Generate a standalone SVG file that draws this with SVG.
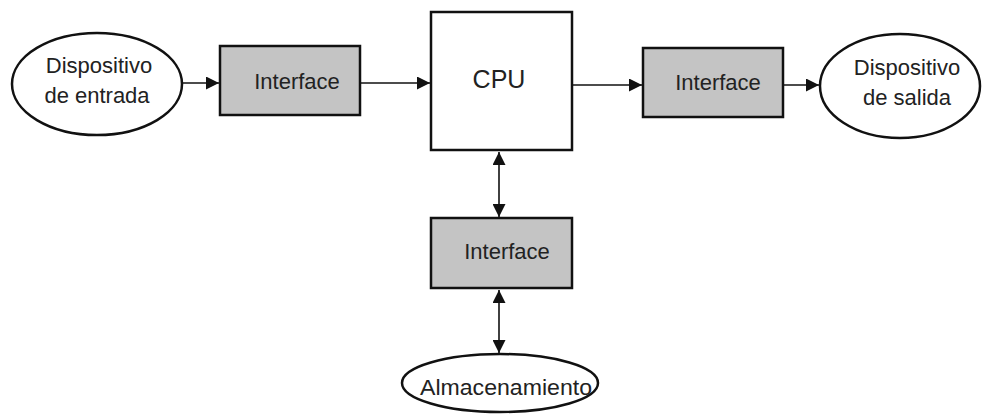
<svg xmlns="http://www.w3.org/2000/svg" width="982" height="414" viewBox="0 0 982 414">
<style>
.box{fill:#fff;stroke:#111;stroke-width:2.5}
.iface{fill:#c4c4c4;stroke:#111;stroke-width:2.5}
.ell{fill:#fff;stroke:#111;stroke-width:2.5}
.lbl{font-family:"Liberation Sans",Arial,sans-serif;font-size:22px;fill:#222;text-anchor:middle}
.cn{stroke:#111;stroke-width:1.6;fill:none}
</style>
<defs>
<marker id="ah" markerUnits="userSpaceOnUse" markerWidth="13" markerHeight="13" viewBox="0 0 10 10" refX="10" refY="5" orient="auto-start-reverse">
<path d="M0,0 L10,5 L0,10 z" fill="#111"/>
</marker>
</defs>
<rect width="982" height="414" fill="#fff"/>
<g id="connectors">
<line class="cn" x1="183" y1="83" x2="219" y2="83" marker-end="url(#ah)"/>
<line class="cn" x1="361" y1="83" x2="430" y2="83" marker-end="url(#ah)"/>
<line class="cn" x1="573" y1="85" x2="642" y2="85" marker-end="url(#ah)"/>
<line class="cn" x1="784" y1="85" x2="819" y2="85" marker-end="url(#ah)"/>
<line class="cn" x1="499" y1="152" x2="499" y2="217" marker-start="url(#ah)" marker-end="url(#ah)"/>
<line class="cn" x1="499" y1="290" x2="499" y2="353" marker-start="url(#ah)" marker-end="url(#ah)"/>
</g>
<g id="in-device">
<ellipse class="ell" cx="97" cy="84" rx="85" ry="51"/>
<text class="lbl" x="99" y="73">Dispositivo</text>
<text class="lbl" x="97" y="103">de entrada</text>
</g>
<g id="iface-in">
<rect class="iface" x="220" y="46" width="140" height="69"/>
<text class="lbl" x="297" y="89">Interface</text>
</g>
<g id="cpu">
<rect class="box" x="431" y="12" width="141" height="138"/>
<text class="lbl" x="499" y="88" style="font-size:25px">CPU</text>
</g>
<g id="iface-out">
<rect class="iface" x="643" y="48" width="140" height="69"/>
<text class="lbl" x="718" y="90">Interface</text>
</g>
<g id="out-device">
<ellipse class="ell" cx="900" cy="86" rx="80" ry="52"/>
<text class="lbl" x="907" y="75">Dispositivo</text>
<text class="lbl" x="907" y="105">de salida</text>
</g>
<g id="iface-storage">
<rect class="iface" x="431" y="218" width="141" height="70"/>
<text class="lbl" x="507" y="259">Interface</text>
</g>
<g id="storage">
<ellipse class="ell" cx="500" cy="383" rx="98" ry="29"/>
<text class="lbl" x="506" y="395" textLength="172" lengthAdjust="spacingAndGlyphs">Almacenamiento</text>
</g>
</svg>
